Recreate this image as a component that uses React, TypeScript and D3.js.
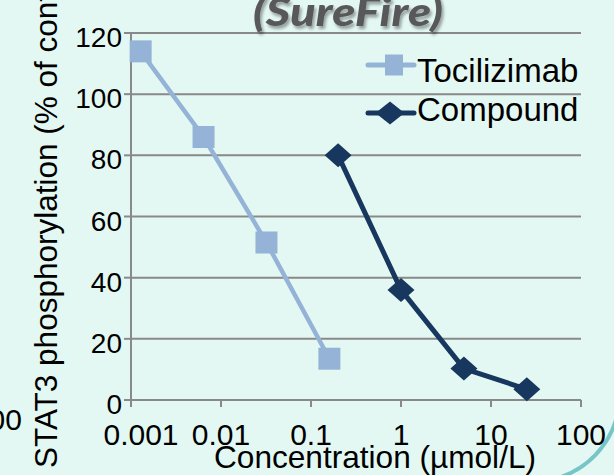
import React, { useEffect, useRef } from 'react';
import * as d3 from 'd3';

// STAT3 phosphorylation vs concentration (SureFire assay), log x axis.

const W = 614;
const H = 475;

const tociConc = [0.00128, 0.0064, 0.032, 0.16];
const tociValues = [114, 86, 51.5, 13.5];
const compoundConc = [0.2, 1, 5, 25];
const compoundValues = [80, 36, 10.3, 3.5];

const xTicks = [0.001, 0.01, 0.1, 1, 10, 100];
const xTickLabels = ['0.001', '0.01', '0.1', '1', '10', '100'];
const yTicks = [0, 20, 40, 60, 80, 100, 120];

const seriesNames = ['Tocilizimab', 'Compound'];

const BG = '#e4f8f3';
const GRID = '#898989';
const TOCI_COLOR = '#95b3d7';
const COMPOUND_COLOR = '#17375e';
const FONT = '"Liberation Sans", Arial, sans-serif';

const PLOT_LEFT = 131;
const PLOT_RIGHT = 581;
const PLOT_TOP = 33;
const PLOT_BOTTOM = 400;

const App = () => {
  const svgRef = useRef<SVGSVGElement>(null);

  useEffect(() => {
    const svg = d3.select(svgRef.current).attr('width', W).attr('height', H);
    svg.selectAll('*').remove();

    const defs = svg.append('defs');
    const shadow = defs.append('filter').attr('id', 'titleShadow').attr('x', '-20%').attr('y', '-50%').attr('width', '140%').attr('height', '200%');
    shadow
      .append('feDropShadow')
      .attr('dx', 2)
      .attr('dy', 3)
      .attr('stdDeviation', 1.6)
      .attr('flood-color', '#000')
      .attr('flood-opacity', 0.35);

    svg.append('rect').attr('width', W).attr('height', H).attr('fill', BG);

    const x = d3.scaleLog().domain([0.001, 100]).range([PLOT_LEFT, PLOT_RIGHT]);
    const y = d3.scaleLinear().domain([0, 120]).range([PLOT_BOTTOM, PLOT_TOP]);

    // Decorative slide arc in the bottom-right corner.
    svg
      .append('path')
      .attr('d', `M ${W + 2} 420 A 88 88 0 0 1 561 ${H + 2}`)
      .attr('fill', 'none')
      .attr('stroke', '#78c5c8')
      .attr('stroke-width', 4);

    // Gridlines.
    svg
      .append('g')
      .selectAll('line')
      .data(yTicks.filter((v) => v > 0))
      .enter()
      .append('line')
      .attr('x1', PLOT_LEFT)
      .attr('x2', PLOT_RIGHT)
      .attr('y1', (d) => y(d))
      .attr('y2', (d) => y(d))
      .attr('stroke', GRID)
      .attr('stroke-width', 2);

    // Axes.
    const axes = svg.append('g').attr('stroke', GRID).attr('stroke-width', 2);
    axes.append('line').attr('x1', PLOT_LEFT).attr('x2', PLOT_LEFT).attr('y1', PLOT_TOP).attr('y2', PLOT_BOTTOM);
    axes.append('line').attr('x1', PLOT_LEFT).attr('x2', PLOT_RIGHT).attr('y1', PLOT_BOTTOM).attr('y2', PLOT_BOTTOM);
    axes
      .selectAll('line.ytick')
      .data(yTicks)
      .enter()
      .append('line')
      .attr('class', 'ytick')
      .attr('x1', PLOT_LEFT - 7)
      .attr('x2', PLOT_LEFT)
      .attr('y1', (d) => y(d))
      .attr('y2', (d) => y(d));
    axes
      .selectAll('line.xtick')
      .data(xTicks)
      .enter()
      .append('line')
      .attr('class', 'xtick')
      .attr('x1', (d) => x(d))
      .attr('x2', (d) => x(d))
      .attr('y1', PLOT_BOTTOM)
      .attr('y2', PLOT_BOTTOM + 7);

    // Tick labels.
    svg
      .append('g')
      .selectAll('text')
      .data(yTicks)
      .enter()
      .append('text')
      .attr('x', PLOT_LEFT - 9)
      .attr('y', (d) => y(d) + 14)
      .attr('text-anchor', 'end')
      .attr('font-family', FONT)
      .attr('font-size', 28)
      .attr('fill', '#000')
      .text((d) => d);
    svg
      .append('g')
      .selectAll('text')
      .data(xTicks)
      .enter()
      .append('text')
      .attr('x', (d, i) => x(d) + (i === 0 ? 10 : 0))
      .attr('y', 445)
      .attr('text-anchor', 'middle')
      .attr('font-family', FONT)
      .attr('font-size', 30)
      .attr('fill', '#000')
      .text((d, i) => xTickLabels[i]);

    // Series.
    const line = d3
      .line<[number, number]>()
      .x((d) => x(d[0]))
      .y((d) => y(d[1]));
    const toci = tociConc.map((c, i) => [c, tociValues[i]] as [number, number]);
    const compound = compoundConc.map((c, i) => [c, compoundValues[i]] as [number, number]);

    svg.append('path').datum(toci).attr('fill', 'none').attr('stroke', TOCI_COLOR).attr('stroke-width', 4.5).attr('d', line);
    svg
      .append('g')
      .selectAll('rect')
      .data(toci)
      .enter()
      .append('rect')
      .attr('x', (d) => x(d[0]) - 11)
      .attr('y', (d) => y(d[1]) - 11)
      .attr('width', 22)
      .attr('height', 22)
      .attr('fill', TOCI_COLOR);

    svg.append('path').datum(compound).attr('fill', 'none').attr('stroke', COMPOUND_COLOR).attr('stroke-width', 5).attr('d', line);
    const diamond = (cx: number, cy: number, hw: number, hh: number) =>
      `M${cx - hw},${cy} L${cx},${cy - hh} L${cx + hw},${cy} L${cx},${cy + hh} Z`;
    svg
      .append('g')
      .selectAll('path')
      .data(compound)
      .enter()
      .append('path')
      .attr('d', (d) => diamond(x(d[0]), y(d[1]), 13.5, 12))
      .attr('fill', COMPOUND_COLOR);

    // Legend.
    const legend = svg.append('g');
    const legendRows = [
      { name: seriesNames[0], color: TOCI_COLOR, ly: 65, ty: 82 },
      { name: seriesNames[1], color: COMPOUND_COLOR, ly: 113, ty: 121 },
    ];
    legendRows.forEach((r, i) => {
      legend
        .append('line')
        .attr('x1', 368)
        .attr('x2', 414)
        .attr('y1', r.ly)
        .attr('y2', r.ly)
        .attr('stroke', r.color)
        .attr('stroke-width', 5)
        .attr('stroke-linecap', 'round');
      if (i === 0) {
        legend.append('rect').attr('x', 385).attr('y', r.ly - 10.5).attr('width', 18).attr('height', 21).attr('fill', r.color);
      } else {
        legend.append('path').attr('d', diamond(390, r.ly, 14.5, 11.5)).attr('fill', r.color);
      }
      legend
        .append('text')
        .attr('x', 417)
        .attr('y', r.ty)
        .attr('font-family', FONT)
        .attr('font-size', 33)
        .attr('fill', '#000')
        .text(r.name);
    });

    // Title (cut off at the top edge of the slide).
    svg
      .append('text')
      .attr('x', 348)
      .attr('y', 26)
      .attr('text-anchor', 'middle')
      .attr('font-family', 'Lato, "Open Sans", sans-serif')
      .attr('font-style', 'italic')
      .attr('font-weight', 900)
      .attr('font-size', 40)
      .attr('textLength', 190)
      .attr('lengthAdjust', 'spacingAndGlyphs')
      .attr('fill', '#595959')
      .attr('filter', 'url(#titleShadow)')
      .text('(SureFire)');

    // Axis titles.
    svg
      .append('text')
      .attr('x', 214)
      .attr('y', 468)
      .attr('font-family', FONT)
      .attr('font-size', 31.5)
      .attr('textLength', 322)
      .attr('lengthAdjust', 'spacingAndGlyphs')
      .attr('fill', '#000')
      .text('Concentration (µmol/L)');
    svg
      .append('text')
      .attr('transform', 'translate(57,468) rotate(-90)')
      .attr('font-family', FONT)
      .attr('font-size', 31.5)
      .attr('fill', '#000')
      .text('STAT3 phosphorylation (% of control)');

    // Stray label from a neighbouring chart, clipped at the left edge.
    svg
      .append('text')
      .attr('x', 22)
      .attr('y', 430)
      .attr('text-anchor', 'end')
      .attr('font-family', FONT)
      .attr('font-size', 30)
      .attr('fill', '#000')
      .text('100');
  }, []);

  return (
    <div style={{ position: 'absolute', left: 0, top: 0, width: W, height: H, overflow: 'hidden' }}>
      <svg ref={svgRef} style={{ display: 'block' }} />
    </div>
  );
};

export default App;
